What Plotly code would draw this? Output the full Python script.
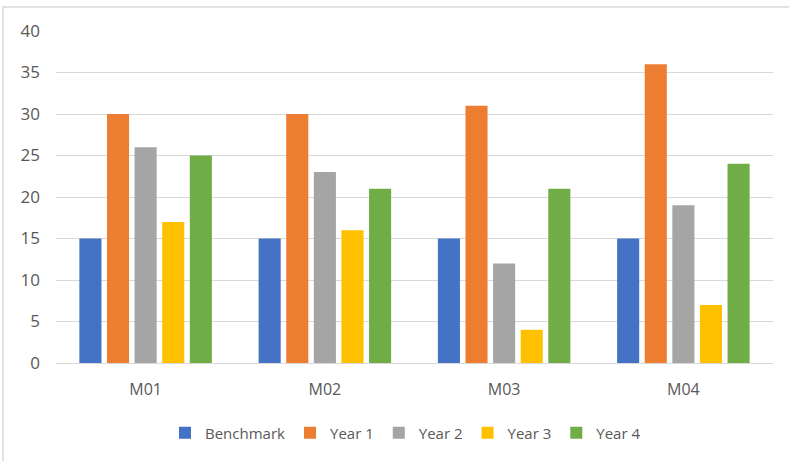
import plotly.graph_objects as go

categories = ["M01", "M02", "M03", "M04"]
series_names = ["Benchmark", "Year 1", "Year 2", "Year 3", "Year 4"]
benchmark = [15, 15, 15, 15]
year1 = [30, 30, 31, 36]
year2 = [26, 23, 12, 19]
year3 = [17, 16, 4, 7]
year4 = [25, 21, 21, 24]
colors = ["#4472C4", "#ED7D31", "#A5A5A5", "#FFC000", "#70AD47"]

series_values = [benchmark, year1, year2, year3, year4]

fig = go.Figure()
for name, vals, col in zip(series_names, series_values, colors):
    fig.add_trace(go.Bar(
        x=categories, y=vals, name=name,
        marker=dict(color=col, line=dict(width=0)),
    ))

font_family = "Open Sans, Noto Sans, DejaVu Sans, sans-serif"
text_color = "#595959"
grid_color = "#d9d9d9"

fig.update_layout(
    width=789, height=461,
    margin=dict(l=56, r=16, t=31, b=98, autoexpand=False),
    paper_bgcolor="white", plot_bgcolor="white",
    barmode="group", bargap=0.23, bargroupgap=0.2,
    font=dict(family=font_family, size=16, color=text_color),
    showlegend=True,
    legend=dict(
        orientation="h", x=0.152, xanchor="left", y=-0.211, yanchor="middle",
        font=dict(size=15, color=text_color), itemclick=False,
        traceorder="normal",
    ),
    xaxis=dict(
        showgrid=False, showline=True, linecolor=grid_color, linewidth=1,
        ticks="", ticklabelstandoff=12, tickfont=dict(size=16, color=text_color),
        automargin=False,
    ),
    yaxis=dict(
        range=[0, 40], dtick=5, showgrid=True, gridcolor=grid_color, gridwidth=1,
        zeroline=True, zerolinecolor=grid_color, zerolinewidth=1,
        showline=False, ticks="", ticklabelstandoff=15,
        tickfont=dict(size=17, color=text_color), automargin=False,
    ),
    shapes=[dict(
        type="rect", xref="paper", yref="paper",
        x0=(3 - 56) / 717, x1=(795 - 56) / 717,
        y0=(363 - 470) / 332, y1=1 + 24 / 332,
        line=dict(color="#d9d9d9", width=1.5), fillcolor="rgba(0,0,0,0)",
        layer="below",
    )],
)

fig.write_html("out.html")
